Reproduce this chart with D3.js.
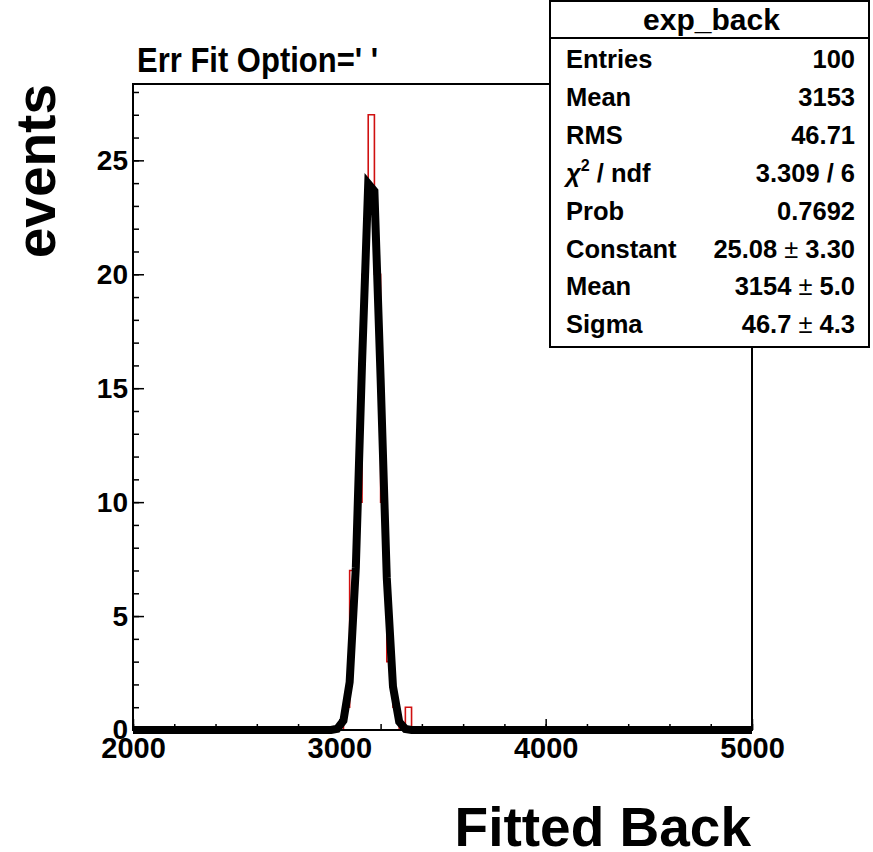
<!DOCTYPE html>
<html>
<head>
<meta charset="utf-8">
<script src="https://cdn.jsdelivr.net/npm/d3@7"></script>
<style>
  body { margin: 0; background: #fff; }
  svg { display: block; }
  text { font-family: "Liberation Sans", Arial, Helvetica, sans-serif; font-weight: bold; fill: #000; }
</style>
</head>
<body>
<div id="plot"></div>
<script>
// histogram: 100 bins of 30 from 2000 to 5000, only the filled bins listed
var xRange = [2000, 5000];
var binWidth = 30;
var binStarts = [3020, 3050, 3080, 3110, 3140, 3170, 3200, 3230, 3260, 3320];
var binCounts = [1, 7, 10, 20, 27, 20, 10, 3, 1, 1];

// gaus fit result (Constant, Mean, Sigma)
var fitConstant = 25.08;
var fitMean = 3154;
var fitSigma = 46.7;

var xTicks = [2000, 3000, 4000, 5000];
var yTicks = [0, 5, 10, 15, 20, 25];

var statName = "exp_back";
var statLabels = ["Entries", "Mean", "RMS", "chi2", "Prob", "Constant", "Mean", "Sigma"];
var statValues = ["100", "3153", "46.71", "3.309 / 6", "0.7692", "25.08|3.30", "3154|5.0", "46.7|4.3"];

function start(){
    var width = 873, height = 852;
    var frame = {left: 133, right: 752, top: 84, bottom: 730};

    var svg = d3.select('#plot').append("svg")
        .attr("width", width)
        .attr("height", height);

    var nBins = (xRange[1] - xRange[0]) / binWidth;
    var counts = [];
    for (var i = 0; i < nBins; i++) counts.push(0);
    binStarts.forEach(function(s, j){
        counts[Math.round((s - xRange[0]) / binWidth)] = binCounts[j];
    });

    var xScale = d3.scaleLinear().domain(xRange).range([frame.left, frame.right]);
    var yScale = d3.scaleLinear().domain([0, d3.max(binCounts) * 1.05]).range([frame.bottom, frame.top]);

    // histogram outline
    var histPts = [[xRange[0], 0]];
    counts.forEach(function(c, i){
        var lo = xRange[0] + i * binWidth;
        histPts.push([lo, c]);
        histPts.push([lo + binWidth, c]);
    });
    histPts.push([xRange[1], 0]);

    var line = d3.line()
        .x(function(d){ return xScale(d[0]); })
        .y(function(d){ return yScale(d[1]); });

    svg.append("path")
        .attr("d", line(histPts))
        .attr("fill", "none")
        .attr("stroke", "#d01010")
        .attr("stroke-width", 1.6);

    // fit function, sampled like root does (npx = 100)
    var fitPts = [];
    for (var k = 0; k <= 100; k++){
        var xv = xRange[0] + k * (xRange[1] - xRange[0]) / 100;
        var z = (xv - fitMean) / fitSigma;
        fitPts.push([xv, fitConstant * Math.exp(-0.5 * z * z)]);
    }
    svg.append("path")
        .attr("d", line(fitPts))
        .attr("fill", "none")
        .attr("stroke", "#000")
        .attr("stroke-width", 8);

    // frame
    svg.append("rect")
        .attr("x", frame.left)
        .attr("y", frame.top)
        .attr("width", frame.right - frame.left)
        .attr("height", frame.bottom - frame.top)
        .attr("fill", "none")
        .attr("stroke", "#000")
        .attr("stroke-width", 2);

    // x axis: minor then major ticks, pointing inward
    var xAxisG = svg.append("g").attr("transform", `translate(0,${frame.bottom})`);
    xAxisG.append("g")
        .call(d3.axisBottom(xScale).tickValues(d3.range(2000, 5001, 200)).tickSizeInner(-6).tickSizeOuter(0).tickFormat(""));
    xAxisG.append("g")
        .attr("class", "x_axis")
        .call(d3.axisBottom(xScale).tickValues(xTicks).tickSizeInner(-11).tickSizeOuter(0).tickPadding(7).tickFormat(d3.format("d")));
    xAxisG.selectAll(".domain").remove();
    xAxisG.selectAll("line").attr("stroke", "#000").attr("stroke-width", 1.5);
    xAxisG.selectAll(".x_axis text")
        .style("font-size", "29px")
        .style("font-family", "Liberation Sans, Arial, sans-serif")
        .style("font-weight", "bold");

    // y axis
    var yAxisG = svg.append("g").attr("transform", `translate(${frame.left},0)`);
    yAxisG.append("g")
        .call(d3.axisLeft(yScale).tickValues(d3.range(0, 29, 1)).tickSizeInner(-6).tickSizeOuter(0).tickFormat(""));
    yAxisG.append("g")
        .attr("class", "y_axis")
        .call(d3.axisLeft(yScale).tickValues(yTicks).tickSizeInner(-11).tickSizeOuter(0).tickPadding(5).tickFormat(d3.format("d")));
    yAxisG.selectAll(".domain").remove();
    yAxisG.selectAll("line").attr("stroke", "#000").attr("stroke-width", 1.5);
    yAxisG.selectAll(".y_axis text")
        .style("font-size", "28px")
        .style("font-family", "Liberation Sans, Arial, sans-serif")
        .style("font-weight", "bold");

    // titles
    svg.append("text")
        .attr("transform", "translate(137,72) scale(1,1.15)")
        .style("font-size", "31px")
        .text("Err Fit Option=' '");

    svg.append("text")
        .attr("transform", "translate(55,84) rotate(-90)")
        .attr("text-anchor", "end")
        .style("font-size", "55px")
        .text("events");

    svg.append("text")
        .attr("x", 751)
        .attr("y", 846)
        .attr("text-anchor", "end")
        .style("font-size", "55px")
        .text("Fitted Back");

    // stats box
    var box = {x: 550, y: 1, w: 319, h: 346};
    var stats = svg.append("g");
    stats.append("rect")
        .attr("x", box.x).attr("y", box.y)
        .attr("width", box.w).attr("height", box.h)
        .attr("fill", "#fff")
        .attr("stroke", "#000")
        .attr("stroke-width", 2);
    stats.append("line")
        .attr("x1", box.x).attr("x2", box.x + box.w)
        .attr("y1", 38).attr("y2", 38)
        .attr("stroke", "#000")
        .attr("stroke-width", 2);
    stats.append("text")
        .attr("x", box.x + box.w / 2 + 2)
        .attr("y", 30)
        .attr("text-anchor", "middle")
        .style("font-size", "30px")
        .text(statName);

    statLabels.forEach(function(lab, i){
        var yy = 68 + i * 37.9;
        var t = stats.append("text")
            .attr("x", 566)
            .attr("y", yy)
            .style("font-size", "25.5px");
        if (lab == "chi2"){
            t.append("tspan").style("font-style", "italic").text("\u03c7");
            t.append("tspan").attr("dy", -11).style("font-size", "16px").text("2");
            t.append("tspan").attr("dy", 11).text(" / ndf");
        } else {
            t.text(lab);
        }

        var v = stats.append("text")
            .attr("x", 855)
            .attr("y", yy)
            .attr("text-anchor", "end")
            .style("font-size", "25.5px");
        var parts = statValues[i].split("|");
        if (parts.length == 2){
            v.append("tspan").text(parts[0]);
            v.append("tspan").style("font-weight", "normal").text(" \u00b1 ");
            v.append("tspan").text(parts[1]);
        } else {
            v.text(parts[0]);
        }
    });
}

start();
</script>
</body>
</html>
